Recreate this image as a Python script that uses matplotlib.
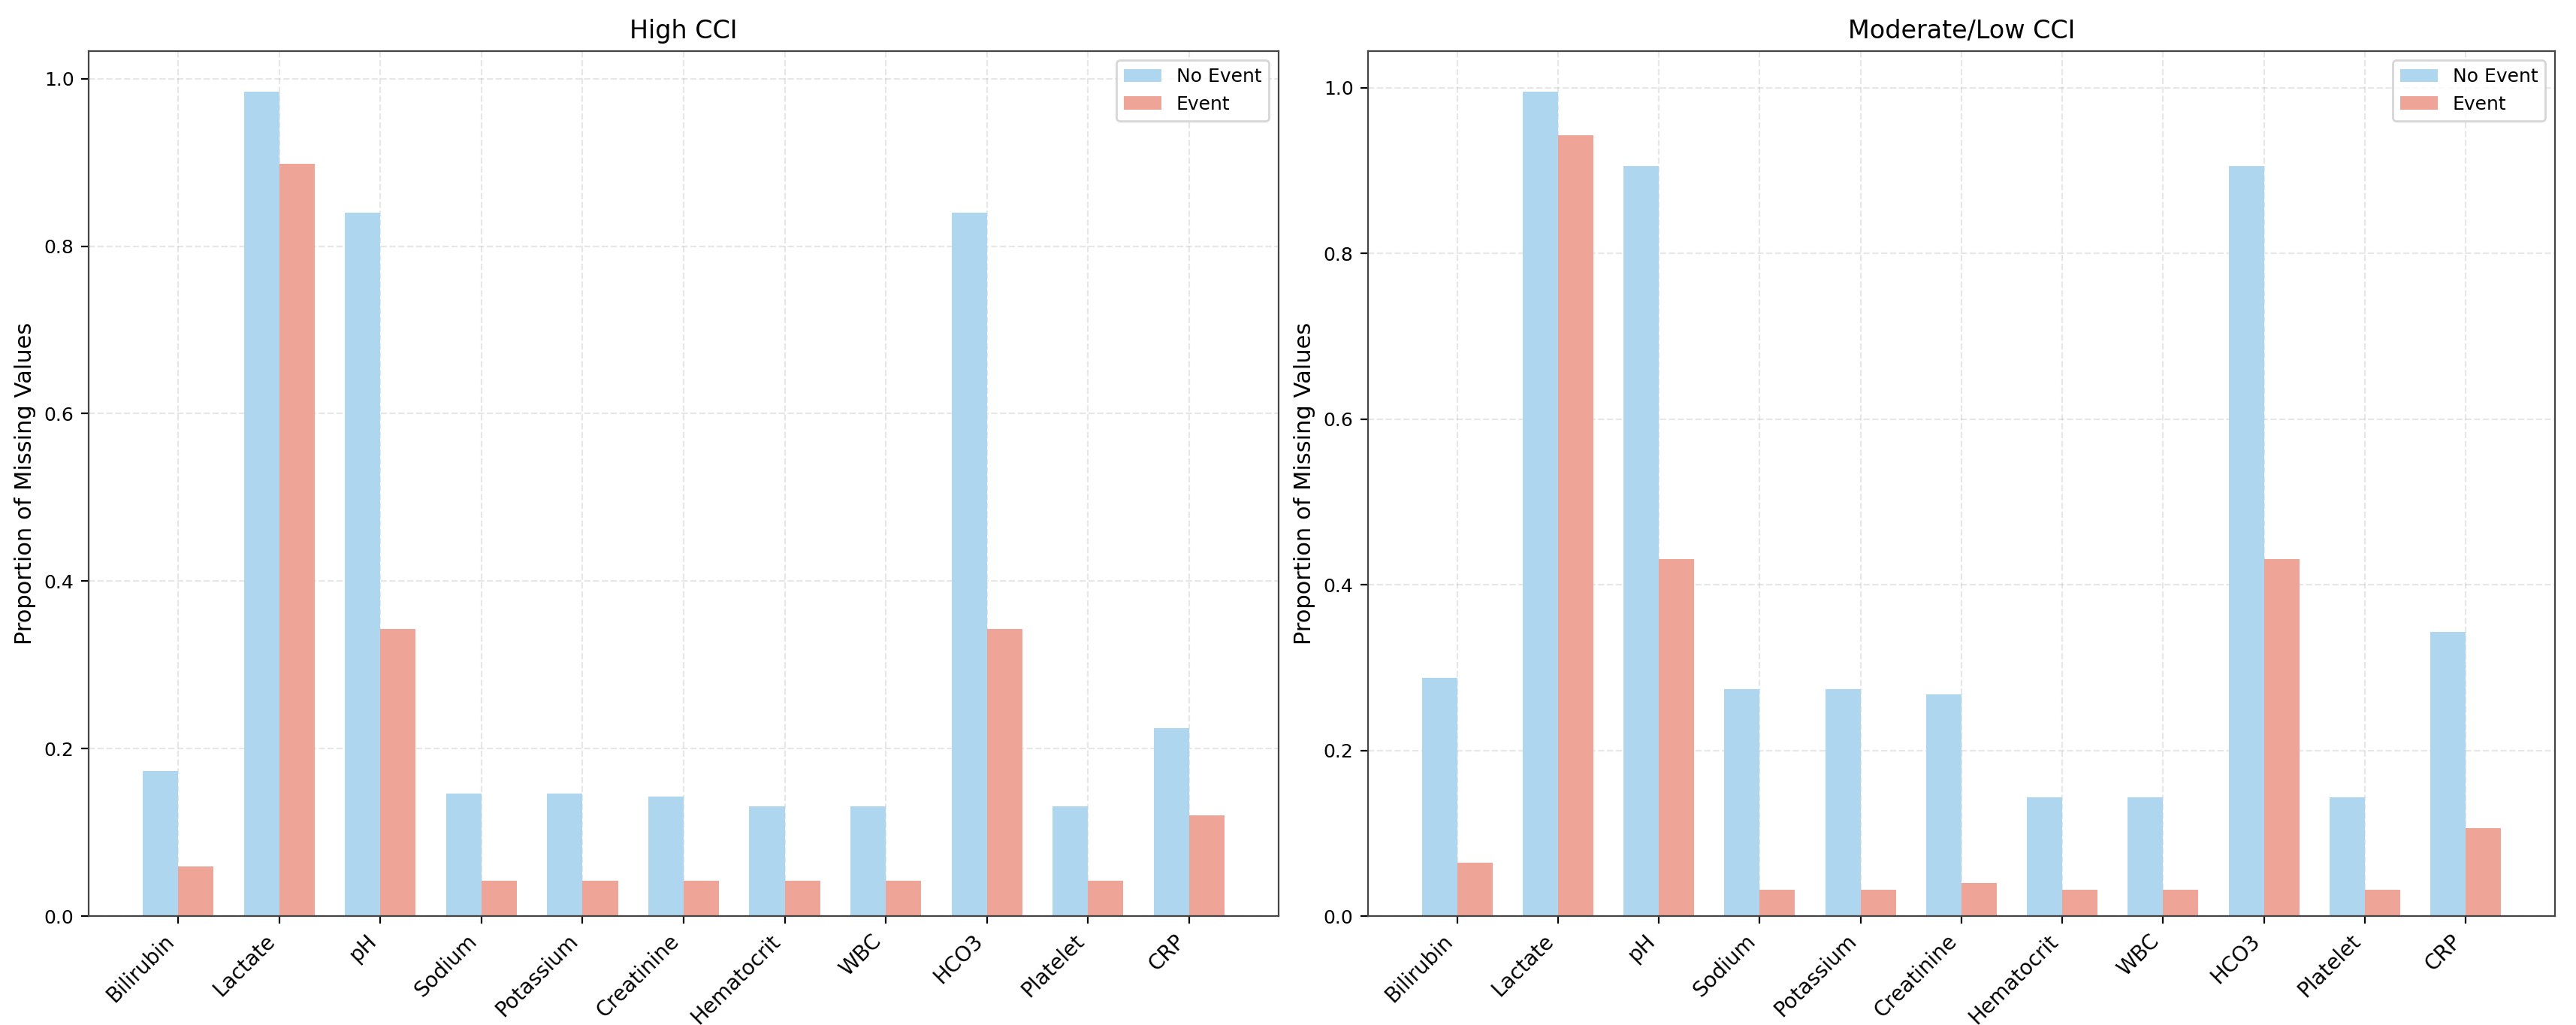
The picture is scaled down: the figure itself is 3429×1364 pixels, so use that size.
import matplotlib
matplotlib.use("Agg")
import matplotlib.pyplot as plt
import numpy as np

categories = ["Bilirubin", "Lactate", "pH", "Sodium", "Potassium", "Creatinine",
              "Hematocrit", "WBC", "HCO3", "Platelet", "CRP"]

high_no_event = [0.173, 0.984, 0.840, 0.146, 0.146, 0.143, 0.131, 0.131, 0.840, 0.131, 0.224]
high_event = [0.059, 0.898, 0.343, 0.042, 0.042, 0.042, 0.042, 0.042, 0.343, 0.042, 0.120]

low_no_event = [0.288, 0.995, 0.906, 0.274, 0.274, 0.268, 0.143, 0.143, 0.906, 0.143, 0.343]
low_event = [0.064, 0.943, 0.431, 0.032, 0.032, 0.040, 0.032, 0.032, 0.431, 0.032, 0.106]

titles = ["High CCI", "Moderate/Low CCI"]
series_labels = ["No Event", "Event"]

blue = "#AED6EE"
red = "#EEA597"

fig = plt.figure(figsize=(17.15, 6.82), dpi=200)
ax1 = fig.add_axes([0.0344, 0.1063, 0.4618, 0.8441])
ax2 = fig.add_axes([0.5309, 0.1063, 0.4606, 0.8441])

x = np.arange(len(categories))
w = 0.35
for ax, ne, ev, title in [(ax1, high_no_event, high_event, titles[0]),
                          (ax2, low_no_event, low_event, titles[1])]:
    ax.bar(x - w / 2, ne, w, color=blue, linewidth=0, label=series_labels[0])
    ax.bar(x + w / 2, ev, w, color=red, linewidth=0, label=series_labels[1])
    ax.set_title(title, fontsize=12)
    ax.set_ylabel("Proportion of Missing Values", fontsize=11)
    ax.set_xticks(x)
    ax.set_xticklabels(categories, rotation=45, ha="right", fontsize=10)
    ax.tick_params(axis="y", labelsize=9)
    ax.grid(True, linestyle="--", alpha=0.3)
    ax.set_axisbelow(True)
    ax.legend(loc="upper right", fontsize=9)
    for s in ax.spines.values():
        s.set_color("#444444")

fig.savefig("out.png", dpi=200)
